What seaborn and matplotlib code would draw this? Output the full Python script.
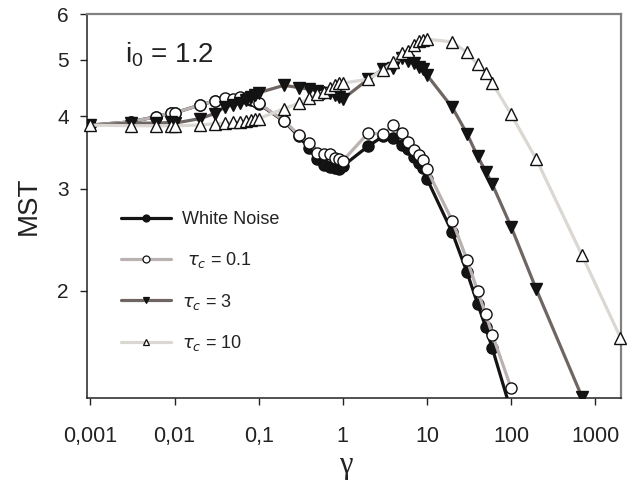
import matplotlib
matplotlib.use("Agg")
import matplotlib.pyplot as plt
from matplotlib.lines import Line2D
from matplotlib.ticker import FixedLocator, FixedFormatter, NullLocator
import seaborn as sns
import pandas as pd

# ---- data ----
x_wn = [0.001, 0.003, 0.006, 0.009, 0.01, 0.02, 0.03, 0.04, 0.05, 0.06, 0.07, 0.08, 0.09, 0.1,
        0.2, 0.3, 0.4, 0.5, 0.6, 0.7, 0.8, 0.9, 1, 2, 3, 4, 5, 6, 7, 8, 9, 10,
        20, 30, 40, 50, 60, 100]
y_wn = [3.86, 3.91, 3.99, 4.05, 4.05, 4.18, 4.25, 4.28, 4.27, 4.30, 4.29, 4.27, 4.25, 4.20,
        3.92, 3.69, 3.52, 3.37, 3.29, 3.27, 3.25, 3.24, 3.28, 3.55, 3.69, 3.66, 3.56, 3.51, 3.40, 3.32, 3.25, 3.12,
        2.52, 2.15, 1.90, 1.73, 1.59, 1.24]

x_t01 = [0.001, 0.003, 0.006, 0.009, 0.01, 0.02, 0.03, 0.04, 0.05, 0.06, 0.07, 0.08, 0.09, 0.1,
         0.2, 0.3, 0.4, 0.5, 0.6, 0.7, 0.8, 0.9, 1, 2, 3, 4, 5, 6, 7, 8, 9, 10,
         20, 30, 40, 50, 60, 100]
y_t01 = [3.86, 3.91, 3.99, 4.05, 4.05, 4.18, 4.25, 4.29, 4.28, 4.31, 4.30, 4.28, 4.25, 4.21,
         3.93, 3.71, 3.59, 3.46, 3.44, 3.44, 3.39, 3.37, 3.35, 3.74, 3.72, 3.86, 3.74, 3.61, 3.50, 3.43, 3.36, 3.24,
         2.64, 2.26, 2.00, 1.82, 1.68, 1.36]

x_t3 = [0.001, 0.003, 0.006, 0.009, 0.01, 0.02, 0.03, 0.04, 0.05, 0.06, 0.07, 0.08, 0.09, 0.1,
        0.2, 0.3, 0.4, 0.5, 0.6, 0.7, 0.8, 0.9, 1, 2, 3, 4, 5, 6, 7, 8, 9, 10,
        20, 30, 40, 50, 60, 100, 200, 700]
y_t3 = [3.86, 3.89, 3.89, 3.90, 3.89, 3.96, 4.04, 4.15, 4.18, 4.21, 4.27, 4.32, 4.35, 4.39,
        4.52, 4.48, 4.45, 4.42, 4.39, 4.38, 4.35, 4.32, 4.28, 4.63, 4.82, 4.84, 5.03, 4.98, 4.93, 4.87, 4.82, 4.71,
        4.14, 3.73, 3.41, 3.21, 3.05, 2.58, 2.01, 1.31]

x_t10 = [0.001, 0.003, 0.006, 0.009, 0.01, 0.02, 0.03, 0.04, 0.05, 0.06, 0.07, 0.08, 0.09, 0.1,
         0.2, 0.3, 0.4, 0.5, 0.6, 0.7, 0.8, 0.9, 1, 2, 3, 4, 5, 6, 7, 8, 9, 10,
         20, 30, 40, 50, 60, 100, 200, 700, 2000]
y_t10 = [3.86, 3.85, 3.85, 3.85, 3.85, 3.86, 3.88, 3.89, 3.90, 3.91, 3.93, 3.94, 3.95, 3.96,
         4.12, 4.21, 4.29, 4.37, 4.41, 4.47, 4.53, 4.56, 4.56, 4.63, 4.81, 4.96, 5.14, 5.19, 5.30, 5.39, 5.41, 5.43,
         5.37, 5.15, 4.91, 4.74, 4.56, 4.03, 3.37, 2.30, 1.66]

series_labels = ["White Noise", r" $\tau_c$ = 0.1", r"$\tau_c$ = 3", r"$\tau_c$ = 10"]
x_ticks = [0.001, 0.01, 0.1, 1, 10, 100, 1000]
x_ticklabels = ["0,001", "0,01", "0,1", "1", "10", "100", "1000"]
y_ticks = [2, 3, 4, 5, 6]
y_ticklabels = ["2", "3", "4", "5", "6"]

# ---- style ----
sns.set_style("ticks")
plt.rcParams["font.family"] = ["Liberation Sans", "DejaVu Sans"]
plt.rcParams["mathtext.fontset"] = "dejavusans"

line_colors = ["#141414", "#bab2b0", "#6f6664", "#dbd7d3"]
markers = ["o", "o", "v", "^"]
faces = ["#141414", "white", "#141414", "white"]
clips = [True, True, True, False]
xs = [x_wn, x_t01, x_t3, x_t10]
ys = [y_wn, y_t01, y_t3, y_t10]

fig = plt.figure(figsize=(6.38, 4.95), dpi=100)
ax = fig.add_axes([87 / 638, 1 - 398 / 495, (621 - 87) / 638, (398 - 14) / 495])

for i in range(4):
    df = pd.DataFrame({"gamma": xs[i], "MST": ys[i]})
    sns.lineplot(data=df, x="gamma", y="MST", ax=ax, color=line_colors[i], lw=2.3,
                 marker=markers[i], markersize=8, markerfacecolor=faces[i],
                 markeredgecolor="#111111", markeredgewidth=1.0,
                 estimator=None, sort=False, zorder=3 + i, clip_on=clips[i])

ax.set_xscale("log")
ax.set_yscale("log")
ax.set_xlim(9.09e-4, 2030)
ax.set_ylim(1.306, 6.0)

ax.xaxis.set_major_locator(FixedLocator(x_ticks))
ax.xaxis.set_major_formatter(FixedFormatter(x_ticklabels))
ax.xaxis.set_minor_locator(NullLocator())
ax.yaxis.set_major_locator(FixedLocator(y_ticks))
ax.yaxis.set_major_formatter(FixedFormatter(y_ticklabels))
ax.yaxis.set_minor_locator(NullLocator())
ax.tick_params(axis="both", direction="out", length=5, width=1,
               color="#222222", labelcolor="#222222")
ax.tick_params(axis="x", pad=15, labelsize=15.5)
ax.tick_params(axis="y", pad=8, labelsize=15)

for s in ["left", "bottom"]:
    ax.spines[s].set_color("#222222")
    ax.spines[s].set_linewidth(1.1)
for s in ["top", "right"]:
    ax.spines[s].set_visible(True)
    ax.spines[s].set_color("#808080")
    ax.spines[s].set_linewidth(1.6)

ax.set_xlabel("")
ax.set_ylabel("MST", fontsize=20, color="#222222")
ax.yaxis.set_label_coords(-0.084, 0.5)
fig.text(346 / 638, 1 - 466 / 495, "γ", fontsize=22, family=["Liberation Serif", "DejaVu Serif"],
         ha="center", va="center", color="#222222")

ax.text(0.071, 0.893, r"$\mathregular{i_0}$ = 1.2", transform=ax.transAxes, fontsize=20,
        va="center", ha="left", color="#222222")

handles = [Line2D([0], [0], color=line_colors[i], lw=2.3, marker=markers[i], markersize=5,
                  markerfacecolor=faces[i], markeredgecolor="#111111", markeredgewidth=0.9)
           for i in range(4)]
ax.legend(handles, series_labels, loc="upper left", bbox_to_anchor=(0.05, 0.505),
          borderaxespad=0, frameon=False, fontsize=13, handlelength=2.8,
          handletextpad=0.6, labelspacing=1.2, labelcolor="#222222")

fig.savefig("out.png", dpi=100)
